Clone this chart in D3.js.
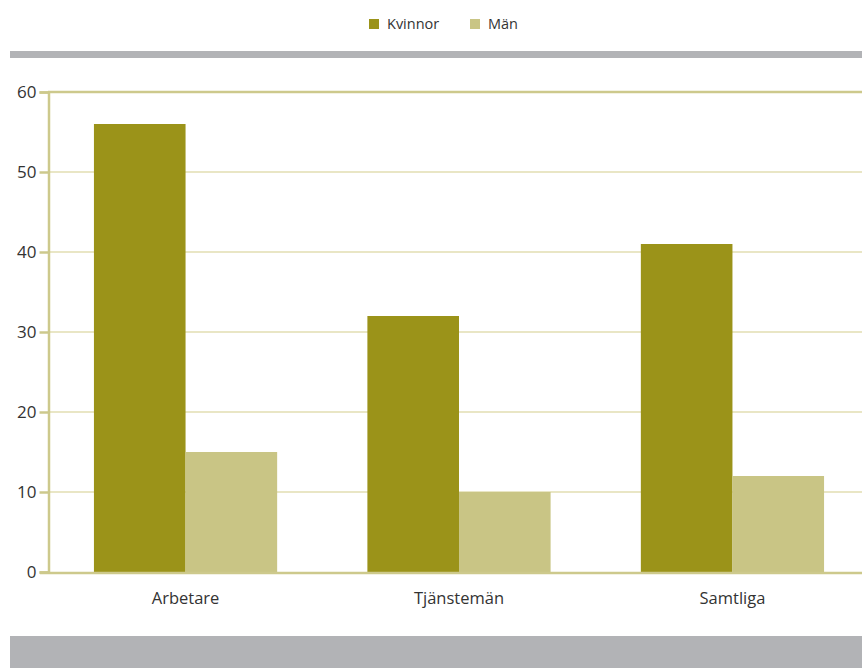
<!DOCTYPE html>
<html><head><meta charset="utf-8">
<script src="https://cdn.jsdelivr.net/npm/d3@7"></script>
<style>body{margin:0;background:#fff;} svg{display:block;font-family:"Open Sans","Noto Sans",sans-serif;}</style>
</head><body>
<script>
const categories = ["Arbetare", "Tjänstemän", "Samtliga"];
const seriesNames = ["Kvinnor", "Män"];
const kvinnor = [56, 32, 41];
const man = [15, 10, 12];
const yTicks = [0, 10, 20, 30, 40, 50, 60];
const colors = ["#9b9319", "#c9c585"];

const W = 862, H = 668;
const svg = d3.select("body").append("svg").attr("width", W).attr("height", H);

// gray bands
svg.append("rect").attr("x", 10).attr("y", 51).attr("width", W - 10).attr("height", 7).attr("fill", "#b2b3b6");
svg.append("rect").attr("x", 10).attr("y", 636).attr("width", W - 10).attr("height", 32).attr("fill", "#b2b3b6");

const y = d3.scaleLinear().domain([0, 60]).range([572, 92]);
const x0 = d3.scaleBand().domain(categories).range([48, 870]).paddingInner(0.33).paddingOuter(0.168);
const x1 = d3.scaleBand().domain(seriesNames).range([0, x0.bandwidth()]);

// grid
svg.append("g").selectAll("line").data(yTicks.filter(t => t > 0 && t < 60)).join("line")
  .attr("x1", 48).attr("x2", W).attr("y1", d => y(d)).attr("y2", d => y(d))
  .attr("stroke", "#e2deb2").attr("stroke-width", 1.5);

const data = categories.map((c, i) => ({ cat: c, vals: [kvinnor[i], man[i]] }));
svg.append("g").selectAll("g").data(data).join("g")
  .attr("transform", d => `translate(${x0(d.cat)},0)`)
  .selectAll("rect").data(d => d.vals.map((v, j) => ({ s: seriesNames[j], v, j }))).join("rect")
  .attr("x", d => x1(d.s)).attr("width", x1.bandwidth())
  .attr("y", d => y(d.v)).attr("height", d => y(0) - y(d.v))
  .attr("fill", d => colors[d.j]);

// top line at 60
svg.append("line").attr("x1", 48).attr("x2", W).attr("y1", y(60)).attr("y2", y(60))
  .attr("stroke", "#cdc98c").attr("stroke-width", 2.5);
// bottom axis line
svg.append("line").attr("x1", 40).attr("x2", W).attr("y1", y(0) + 1).attr("y2", y(0) + 1)
  .attr("stroke", "#cdc98c").attr("stroke-width", 2.5);
// left axis
const yAxis = d3.axisLeft(y).tickValues(yTicks).tickSize(9).tickPadding(3);
const ga = svg.append("g").attr("transform", "translate(48.5,0)").call(yAxis);
ga.select(".domain").attr("stroke", "#cdc98c").attr("stroke-width", 2.5);
ga.selectAll(".tick line").attr("stroke", "#cdc98c").attr("stroke-width", 2.5);
ga.selectAll(".tick text").attr("fill", "#333").attr("font-size", 17).attr("font-family", "'Open Sans','Noto Sans',sans-serif");

// x labels
const xAxis = d3.axisBottom(x0).tickSize(0).tickPadding(20);
const gx = svg.append("g").attr("transform", `translate(0,${y(0)})`).call(xAxis);
gx.select(".domain").remove();
gx.selectAll(".tick text").attr("fill", "#333").attr("font-size", 16.5).attr("font-family", "'Open Sans','Noto Sans',sans-serif");

// legend
const legendX = [369, 470];
const lg = svg.append("g").selectAll("g").data(seriesNames).join("g")
  .attr("transform", (d, i) => `translate(${legendX[i]},19)`);
lg.append("rect").attr("width", 10).attr("height", 10).attr("fill", (d, i) => colors[i]);
lg.append("text").attr("x", 18).attr("y", 10).attr("font-size", 14.5).attr("fill", "#333").text(d => d);
</script>
</body></html>
